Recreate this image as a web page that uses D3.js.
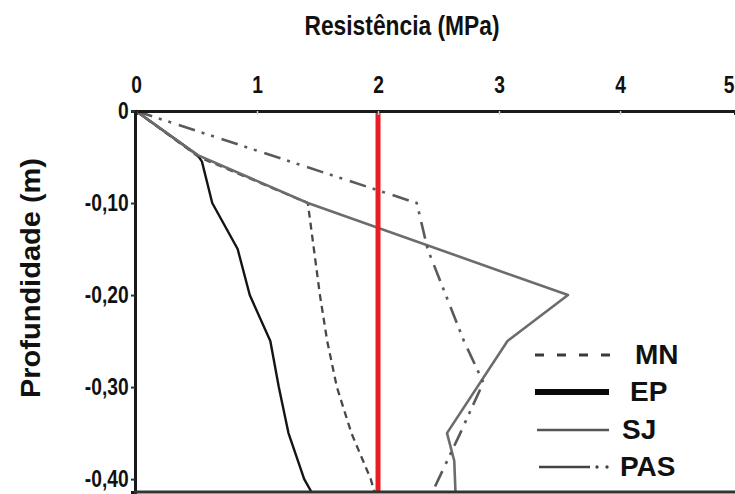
<!DOCTYPE html>
<html>
<head>
<meta charset="utf-8">
<script src="https://cdn.jsdelivr.net/npm/d3@7"></script>
<style>
  html, body { margin: 0; padding: 0; background: #fff; }
  svg { display: block; }
  text { font-family: "Liberation Sans", Arial, sans-serif; font-weight: bold; fill: #111; }
</style>
</head>
<body>
<svg id="chart" width="735" height="494"></svg>
<script>
// Penetration resistance profiles (MPa) against depth (m)
const xTicks = [0, 1, 2, 3, 4, 5];
const yTicks = [0, -0.10, -0.20, -0.30, -0.40];

const depthMN = [0, -0.05, -0.10, -0.15, -0.20, -0.25, -0.30, -0.35, -0.40, -0.414];
const resMN   = [0, 0.52, 1.42, 1.47, 1.52, 1.58, 1.66, 1.78, 1.94, 1.97];

const depthEP = [0, -0.048, -0.055, -0.10, -0.15, -0.20, -0.25, -0.30, -0.35, -0.40, -0.414];
const resEP   = [0, 0.51, 0.545, 0.63, 0.84, 0.94, 1.11, 1.18, 1.26, 1.39, 1.45];

const depthSJ = [0, -0.048, -0.10, -0.20, -0.25, -0.35, -0.38, -0.414];
const resSJ   = [0, 0.51, 1.42, 3.57, 3.07, 2.57, 2.63, 2.64];

const depthPAS = [0, -0.10, -0.15, -0.20, -0.25, -0.295, -0.35, -0.40, -0.414];
const resPAS   = [0, 2.32, 2.41, 2.56, 2.71, 2.87, 2.68, 2.50, 2.45];

const limitValue = 2;   // reference resistance line

const series = [
  { name: "MN",  depth: depthMN,  res: resMN,  color: "#474747", width: 2.3, dash: "7,5" },
  { name: "EP",  depth: depthEP,  res: resEP,  color: "#141414", width: 2.4, dash: null },
  { name: "SJ",  depth: depthSJ,  res: resSJ,  color: "#6c6c6c", width: 2.6, dash: null },
  { name: "PAS", depth: depthPAS, res: resPAS, color: "#5a5a5a", width: 2.6, dash: "17,7,3,7,3,8" }
];

const svg = d3.select("#chart");
const plotLeft = 136, plotTop = 111, plotRight = 735, plotBottom = 492;

const x = d3.scaleLinear().domain([0, 4.95]).range([plotLeft, plotRight]);
const y = d3.scaleLinear().domain([0, -0.414]).range([plotTop, plotBottom]);

// profile lines
const line = d3.line().x(d => x(d[0])).y(d => y(d[1]));
const plot = svg.append("g");
series.forEach(s => {
  const pts = s.res.map((r, i) => [r, s.depth[i]]);
  plot.append("path")
    .attr("d", line(pts))
    .attr("fill", "none")
    .attr("stroke", s.color)
    .attr("stroke-width", s.width)
    .attr("stroke-linejoin", "round")
    .attr("stroke-dasharray", s.dash);
});

// limiting resistance
svg.append("line")
  .attr("x1", x(limitValue)).attr("x2", x(limitValue))
  .attr("y1", y(0)).attr("y2", plotBottom)
  .attr("stroke", "#ec1c24").attr("stroke-width", 5);

// top axis
const xAxis = svg.append("g")
  .attr("transform", `translate(0,${plotTop})`)
  .call(d3.axisTop(x).tickValues(xTicks).tickSize(-4).tickPadding(18).tickFormat(d3.format("d")));
xAxis.select(".domain").attr("stroke", "#1a1a1a").attr("stroke-width", 3);
xAxis.selectAll(".tick line").attr("stroke", "#cfcfcf").attr("stroke-width", 1.5);
xAxis.selectAll(".tick text")
  .attr("font-size", 24)
  .attr("transform", "scale(0.8,1)");
// the last label sits at the right border: keep it inside the page
xAxis.selectAll(".tick text")
  .filter(d => x(d) > plotRight - 8)
  .attr("text-anchor", "end")
  .attr("x", d => (plotRight - 1 - x(d)) / 0.8);

// left axis
const fmt = d => d === 0 ? "0" : d3.format(".2f")(d).replace(".", ",").replace("−", "-");
const yAxis = svg.append("g")
  .attr("transform", `translate(${plotLeft - 1},0)`)
  .call(d3.axisLeft(y).tickValues(yTicks).tickSize(4).tickPadding(4).tickFormat(fmt));
yAxis.select(".domain").attr("stroke", "#1a1a1a").attr("stroke-width", 3);
yAxis.selectAll(".tick line").attr("stroke", "#333").attr("stroke-width", 2);
yAxis.selectAll(".tick text")
  .attr("font-size", 24)
  .attr("transform", "scale(0.8,1)");

// bottom frame line
svg.append("line")
  .attr("x1", plotLeft - 2).attr("x2", plotRight)
  .attr("y1", plotBottom).attr("y2", plotBottom)
  .attr("stroke", "#333").attr("stroke-width", 3);

// axis titles
svg.append("text")
  .attr("x", 402).attr("y", 35)
  .attr("text-anchor", "middle")
  .attr("font-size", 27)
  .attr("textLength", 195)
  .attr("lengthAdjust", "spacingAndGlyphs")
  .text("Resistência (MPa)");

svg.append("text")
  .attr("transform", "translate(40,278) rotate(-90)")
  .attr("text-anchor", "middle")
  .attr("font-size", 28)
  .attr("textLength", 240)
  .attr("lengthAdjust", "spacingAndGlyphs")
  .text("Profundidade (m)");

// legend
const legendRows = [
  { name: "MN",  y: 355, tx: 635, x1: 535, x2: 617, color: "#3a3a3a", width: 3, dash: "9,13" },
  { name: "EP",  y: 392, tx: 630, x1: 535, x2: 609, color: "#0a0a0a", width: 6, dash: null },
  { name: "SJ",  y: 430, tx: 622, x1: 537, x2: 609, color: "#555",    width: 2.5, dash: null },
  { name: "PAS", y: 467, tx: 620, x1: 539, x2: 590, color: "#444",    width: 2.5, dash: null }
];
const legend = svg.append("g");
legendRows.forEach(r => {
  legend.append("line")
    .attr("x1", r.x1).attr("x2", r.x2)
    .attr("y1", r.y).attr("y2", r.y)
    .attr("stroke", r.color).attr("stroke-width", r.width)
    .attr("stroke-dasharray", r.dash);
  if (r.name === "PAS") {
    [597, 607].forEach(cx => legend.append("circle")
      .attr("cx", cx).attr("cy", r.y).attr("r", 1.7).attr("fill", r.color));
  }
  legend.append("text")
    .attr("x", r.tx).attr("y", r.y + 9)
    .attr("font-size", 28)
    .text(r.name);
});
</script>
</body>
</html>
